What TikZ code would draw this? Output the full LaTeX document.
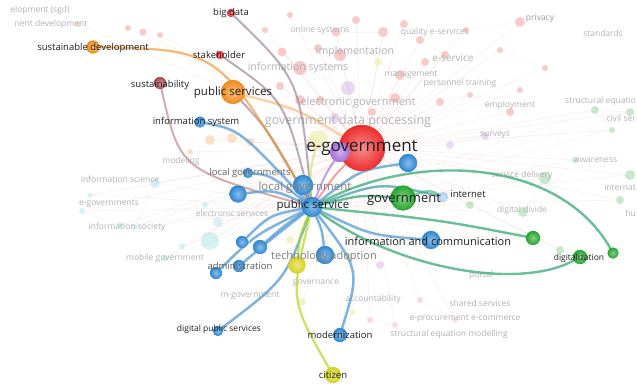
\documentclass[tikz,border=0pt]{standalone}
\usepackage{fontspec}
\setmainfont{Open Sans}
\definecolor{vblue}{RGB}{45,135,210}
\definecolor{vred}{RGB}{238,45,45}
\definecolor{vgreen}{RGB}{35,165,45}
\definecolor{vorange}{RGB}{240,140,25}
\definecolor{vyellow}{RGB}{215,210,30}
\definecolor{vpurple}{RGB}{165,110,215}
\definecolor{vbrown}{RGB}{165,75,80}
\definecolor{vcyan}{RGB}{90,200,210}
\definecolor{vpink}{RGB}{240,110,120}
\definecolor{eblue}{RGB}{85,155,215}
\definecolor{egreen}{RGB}{55,170,115}
\definecolor{egray}{RGB}{150,125,150}
\definecolor{fadetext}{RGB}{178,178,178}
\tikzset{
  vnode/.style 2 args={circle, inner sep=0pt, minimum size=#2, inner color=#1!55!white, outer color=#1},
  fnode/.style 2 args={circle, inner sep=0pt, minimum size=#2, fill=#1, fill opacity=0.25, draw=none},
  lab/.style={inner sep=0pt, text=black!88},
  midlab/.style={inner sep=0pt, text=black!50},
  flab/.style={inner sep=0pt, text=fadetext, font=\fontsize{8.5}{9}\selectfont},
  faint/.style={draw=vpink, opacity=0.12, line width=0.6pt},
  faintg/.style={draw=gray, opacity=0.08, line width=0.6pt},
  bedge/.style={draw=eblue, line width=2.5pt, opacity=0.75, line cap=round},
  gedge/.style={draw=egreen, line width=2.4pt, opacity=0.75, line cap=round},
  oedge/.style={draw=vorange, line width=2.2pt, opacity=0.6, line cap=round},
  pedge/.style={draw=egray, line width=2pt, opacity=0.65, line cap=round},
  yedge/.style={draw=vyellow!80!green, line width=2.2pt, opacity=0.7, line cap=round},
}
\begin{document}
\begin{tikzpicture}[x=1pt,y=-1pt]
\useasboundingbox (0,0) rectangle (637,388);
\fill[white] (0,0) rectangle (637,388);

% ---------- faint background nodes ----------
\foreach \x/\y/\s/\c [count=\i] in {
 383/32/10/vred, 404/24/8/vred, 300/68/14/vred, 282/52/9/vred, 318/48/8/vred,
 340/55/12/vred, 356/20/8/vred, 336/32/9/vred, 420/40/8/vred, 445/55/8/vred,
 400/75/10/vred, 425/62/8/vred, 300/100/10/vred, 280/86/8/vred, 440/102/8/vred,
 470/95/6/vred, 510/112/8/vred, 520/90/6/vred, 500/50/6/vred, 545/68/6/vred,
 466/30/6/vred, 520/22/10/vred, 395/98/10/vred, 372/112/8/vred, 320/100/8/vred,
 265/30/6/vred, 290/15/6/vred, 128/28/6/vred, 143/32/7/vred, 160/35/6/vred,
 155/183/10/vcyan, 135/227/6/vcyan, 120/225/6/vcyan, 82/211/6/vcyan, 210/241/18/vcyan,
 218/222/10/vcyan, 182/246/6/vcyan, 90/195/5/vcyan, 205/205/6/vcyan, 165/258/6/vcyan,
 595/110/8/vgreen, 630/112/8/vgreen, 545/178/12/vgreen, 523/212/10/vgreen, 575/160/6/vgreen,
 630/175/10/vgreen, 620/200/8/vgreen, 612/130/6/vgreen, 560/250/8/vgreen, 470/205/8/vgreen,
 378/62/8/vyellow, 318/140/20/vyellow, 302/302/8/vyellow, 352/312/6/vyellow, 350/258/8/vyellow,
 348/88/14/vpurple, 335/118/10/vpurple, 485/136/8/vpurple, 450/145/8/vpurple, 380/265/8/vpurple,
 210/140/10/vorange, 232/138/10/vorange, 250/142/8/vorange, 190/152/6/vorange, 78/24/6/vorange,
 395/325/6/vpink, 370/320/6/vpink, 420/300/6/vpink, 455/320/5/vpink, 290/240/8/vyellow}
 { \node[fnode={\c}{\s pt}] (bg\i) at (\x,\y) {}; }

% ---------- main node positions ----------
\coordinate (egc) at (362,148);
\coordinate (psc) at (312,207);

% faint web
\foreach \i in {1,...,70} { \draw[faint] (egc) -- (bg\i); }
\foreach \i in {31,...,50} { \draw[faintg] (psc) -- (bg\i); }
\foreach \a/\b in {1/2,2/9,9/10,10/12,3/4,4/5,5/6,6/8,8/1,11/23,23/24,13/14,15/16,16/17,17/18,19/20,21/22,
 31/32,32/33,33/34,35/36,36/39,37/40,41/42,43/44,44/45,46/47,48/41,49/50,51/11,56/3,58/59,61/62,62/63,66/67,68/69}
 { \draw[faintg] (bg\a) -- (bg\b); }

% ---------- faint labels ----------
\node[flab] (t1) at (40,10) {elopment (sgd)};
\node[flab] (t2) at (51,24) {nent development};
\node[flab] (t3) at (320,30) {online systems};
\node[flab] (t4) at (435,32) {quality e-services};
\node[flab, text=black!40] (t5) at (540,18) {privacy};
\node[flab] (t6) at (603,33) {standards};
\node[flab, font=\fontsize{10.5}{11}\selectfont] (t7) at (355,52) {implementation};
\node[flab, font=\fontsize{10}{11}\selectfont] (t8) at (453,58) {e-service};
\node[flab, font=\fontsize{10.5}{11}\selectfont] (t9) at (298,68) {information systems};
\node[flab] (t10) at (411,75) {management};
\node[flab] (t11) at (460,83) {personnel training};
\node[flab, font=\fontsize{11}{12}\selectfont] (t12) at (358,103) {electronic government};
\node[flab] (t13) at (510,105) {employment};
\node[flab, anchor=east] (t14) at (636,101) {structural equatio};
\node[flab, anchor=east] (t15) at (636,118) {civil ser};
\node[flab, font=\fontsize{12.5}{13}\selectfont] (t16) at (348,121) {government data processing};
\node[flab] (t17) at (495,135) {surveys};
\node[flab] (t18) at (522,175) {service delivery};
\node[flab] (t19) at (522,210) {digital divide};
\node[flab] (t20) at (596,160) {awareness};
\node[flab, anchor=east] (t21) at (636,187) {internat};
\node[flab, anchor=east] (t22) at (636,213) {hu};
\node[flab] (t23) at (120,179) {information science};
\node[flab] (t24) at (181,161) {modeling};
\node[flab] (t25) at (109,204) {e-governments};
\node[flab] (t26) at (127,227) {information society};
\node[flab] (t27) at (232,213) {electronic services};
\node[flab] (t28) at (165,258) {mobile government};
\node[flab] (t29) at (250,296) {m-government};
\node[flab] (t30) at (316,283) {governance};
\node[flab] (t31) at (373,299) {accountability};
\node[flab] (t32) at (481,275) {portal};
\node[flab] (t33) at (480,303) {shared services};
\node[flab] (t34) at (465,319) {e-procurement e-commerce};
\node[flab] (t35) at (449,334) {structural equation modelling};

% ---------- highlighted nodes ----------
\node[vnode={vred}{46pt}] (eg) at (egc) {};
\node[vnode={vpurple}{20pt}] (pur) at (340,152) {};
\node[vnode={vblue}{20pt}] (ps) at (psc) {};
\node[vnode={vblue}{20pt}] (lg) at (303,185) {};
\node[vnode={vgreen}{25pt}] (gov) at (403,198) {};
\node[vnode={vblue!40!white}{10pt}] (inet) at (443,197) {};
\node[vnode={vblue}{18pt}] (b5) at (408,163) {};
\node[vnode={vblue}{18pt}] (iac) at (431,240) {};
\node[vnode={vgreen}{14pt}] (g1) at (533,238) {};
\node[vnode={vgreen}{11pt}] (g2) at (613,253) {};
\node[vnode={vgreen}{14pt}] (dig) at (580,257) {};
\node[vnode={vblue}{18pt}] (ta) at (325,255) {};
\node[vnode={vyellow}{17pt}] (tay) at (297,265) {};
\node[vnode={vblue}{12pt}] (adm) at (239,266) {};
\node[vnode={vblue}{12pt}] (b4) at (216,273) {};
\node[vnode={vblue}{12pt}] (b2) at (242,242) {};
\node[vnode={vblue}{14pt}] (b3) at (260,247) {};
\node[vnode={vblue}{17pt}] (b1) at (238,194) {};
\node[vnode={vblue}{10pt}] (lgs) at (248,173) {};
\node[vnode={vblue}{11pt}] (infs) at (200,122) {};
\node[vnode={vorange}{24pt}] (pubs) at (233,92) {};
\node[vnode={vbrown}{12pt}] (sus) at (160,83) {};
\node[vnode={vorange}{13pt}] (sdev) at (93,47) {};
\node[vnode={vred}{8pt}] (sh) at (220,55) {};
\node[vnode={vred}{8pt}] (bd) at (231,13) {};
\node[vnode={vblue}{10pt}] (dps) at (218,331) {};
\node[vnode={vblue}{14pt}] (mod) at (340,335) {};
\node[vnode={vyellow}{16pt}] (cit) at (333,375) {};

% ---------- highlighted edges ----------
\draw[pedge] (ps) .. controls (300,80) .. (bd);
\draw[pedge] (ps) .. controls (285,100) .. (sh);
\draw[pedge, draw=vbrown!70] (ps) .. controls (180,170) .. (sus);
\draw[pedge] (ps) .. controls (268,130) .. (pubs);
\draw[oedge] (sdev) .. controls (220,50) .. (ps);
\draw[oedge, opacity=0.4] (pubs) .. controls (300,110) .. (eg);
\draw[bedge] (ps) .. controls (240,130) .. (infs);
\draw[bedge] (ps) .. controls (270,175) .. (lgs);
\draw[bedge] (ps) -- (lg);
\draw[bedge] (ps) .. controls (275,190) .. (b1);
\draw[bedge] (ps) .. controls (270,215) .. (b2);
\draw[bedge] (ps) .. controls (285,225) .. (b3);
\draw[bedge] (ps) .. controls (270,240) .. (adm);
\draw[bedge] (ps) .. controls (255,235) .. (b4);
\draw[bedge] (ps) .. controls (285,280) .. (dps);
\draw[bedge] (ps) .. controls (360,270) .. (mod);
\draw[bedge] (ps) .. controls (322,230) .. (ta);
\draw[yedge] (ps) .. controls (300,235) .. (tay);
\draw[yedge] (ps) .. controls (290,300) .. (cit);
\draw[pedge, draw=vred!70] (ps) .. controls (335,175) .. (eg);
\draw[pedge, draw=vpurple] (ps) .. controls (325,175) .. (pur);
\draw[yedge, opacity=0.4] (ps) .. controls (310,170) .. (bg52);
\draw[bedge] (ps) .. controls (360,170) .. (b5);
\draw[gedge] (ps) .. controls (360,195) .. (gov);
\draw[gedge, draw=eblue!50!egreen] (ps) .. controls (380,182) .. (inet);
\draw[bedge] (ps) .. controls (370,235) .. (iac);
\draw[gedge] (ps) .. controls (440,220) .. (g1);
\draw[gedge] (ps) .. controls (420,150) and (560,160) .. (g2);
\draw[gedge] (ps) .. controls (400,270) and (520,290) .. (dig);
\draw[gedge, opacity=0.6] (gov) .. controls (430,190) .. (inet);

% redraw highlighted nodes on top of edges
\foreach \n/\c/\s/\x/\y in {eg/vred/46/362/148, pur/vpurple/20/340/152, lg/vblue/20/303/185, ps/vblue/20/312/207,
  gov/vgreen/25/403/198, b5/vblue/18/408/163, iac/vblue/18/431/240, g1/vgreen/14/533/238, g2/vgreen/11/613/253,
  dig/vgreen/14/580/257, ta/vblue/18/325/255, tay/vyellow/17/297/265, adm/vblue/12/239/266, b4/vblue/12/216/273,
  b2/vblue/12/242/242, b3/vblue/14/260/247, b1/vblue/17/238/194, lgs/vblue/10/248/173, infs/vblue/11/200/122,
  pubs/vorange/24/233/92, sus/vbrown/12/160/83, sdev/vorange/13/93/47, sh/vred/8/220/55, bd/vred/8/231/13,
  dps/vblue/10/218/331, mod/vblue/14/340/335, cit/vyellow/16/333/375}
  { \node[vnode={\c}{\s pt}] (top-\n) at (\x,\y) {}; }
\node[vnode={vblue!40!white}{10pt}] (top-inet) at (443,197) {};

% ---------- highlighted labels ----------
\node[lab, font=\fontsize{17}{18}\selectfont] (l-eg) at (eg) {e-government};
\node[lab, font=\fontsize{11.5}{12}\selectfont] (l-ps) at (313,206) {public service};
\node[midlab, font=\fontsize{11.5}{12}\selectfont] (l-lg) at (305,188) {local government};
\node[lab, font=\fontsize{13}{14}\selectfont] (l-gov) at (404,200) {government};
\node[lab, font=\fontsize{9.5}{10}\selectfont] (l-inet) at (468,194) {internet};
\node[lab, font=\fontsize{11}{12}\selectfont] (l-iac) at (428,241) {information and communication};
\node[lab, font=\fontsize{8.5}{9}\selectfont] (l-dig) at (579,258) {digitalization};
\node[midlab, font=\fontsize{11}{12}\selectfont] (l-ta) at (324,257) {technology adoption};
\node[lab, text=black!65, font=\fontsize{9.5}{10}\selectfont] (l-adm) at (240,266) {administration};
\node[lab, text=black!60, font=\fontsize{9.5}{10}\selectfont] (l-lgs) at (250,173) {local governments};
\node[lab, font=\fontsize{9.5}{10}\selectfont] (l-infs) at (196,122) {information system};
\node[lab, font=\fontsize{11.5}{12}\selectfont] (l-pubs) at (233,93) {public services};
\node[lab, font=\fontsize{9.5}{10}\selectfont] (l-sus) at (160,85) {sustainability};
\node[lab, font=\fontsize{9.5}{10}\selectfont] (l-sdev) at (93,48) {sustainable development};
\node[lab, font=\fontsize{9.5}{10}\selectfont] (l-sh) at (219,55) {stakeholder};
\node[lab, font=\fontsize{9.5}{10}\selectfont] (l-bd) at (231,13) {big data};
\node[lab, font=\fontsize{8.5}{9}\selectfont] (l-dps) at (219,329) {digital public services};
\node[lab, font=\fontsize{9.5}{10}\selectfont] (l-mod) at (340,335) {modernization};
\node[lab, font=\fontsize{9.5}{10}\selectfont] (l-cit) at (333,375) {citizen};
\end{tikzpicture}
\end{document}
